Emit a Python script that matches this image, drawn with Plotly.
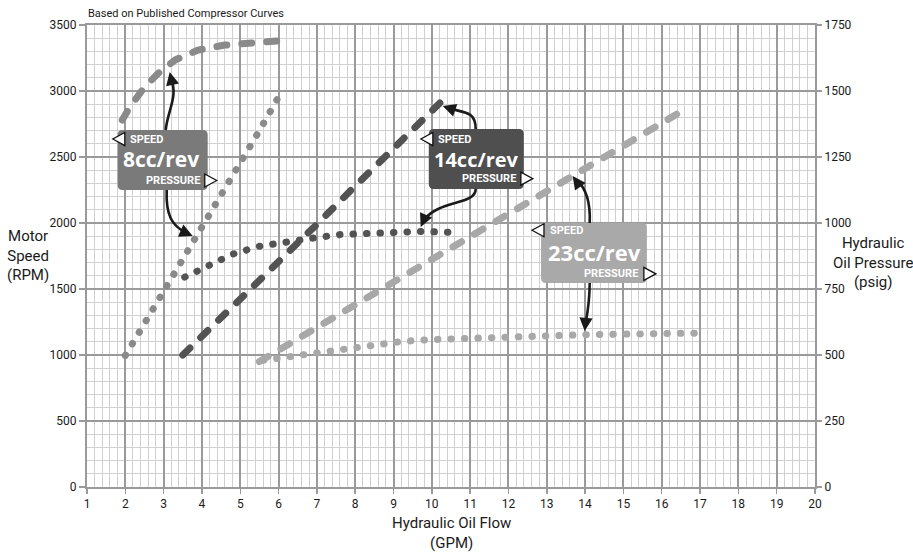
import plotly.graph_objects as go

# ---------------- data ----------------
gpm_8_speed = [1.92, 2.1, 2.5, 2.9, 3.3, 3.9, 4.6, 5.3, 6.0]
rpm_8_speed = [2780, 2870, 3030, 3145, 3235, 3310, 3348, 3370, 3380]
gpm_8_press = [2.0, 2.5, 3.0, 3.5, 4.0, 4.5, 5.0, 5.5, 6.0]
psig_8_press = [498, 618, 740, 864, 987, 1105, 1230, 1350, 1478]

gpm_14_speed = [3.5, 5.0, 6.0, 7.0, 8.0, 9.0, 10.3]
rpm_14_speed = [1000, 1420, 1710, 1990, 2280, 2560, 2935]
gpm_14_press = [3.55, 4.2, 4.8, 5.5, 6.2, 7.0, 7.6, 8.3, 9.0, 9.7, 10.45]
psig_14_press = [795, 842, 882, 912, 930, 945, 956, 962, 968, 968, 965]

gpm_23_speed = [5.5, 7.0, 9.0, 11.0, 13.0, 15.0, 16.6]
rpm_23_speed = [950, 1210, 1555, 1895, 2240, 2585, 2860]
gpm_23_press = [5.6, 6.0, 6.4, 7.1, 7.8, 8.5, 9.2, 9.9, 10.6, 11.3, 12.0, 12.7, 13.8, 15.0, 16.0, 17.0]
psig_23_press = [480, 488, 498, 514, 528, 543, 551, 558, 562, 566, 570, 572, 576, 579, 581, 583]

x_ticks = list(range(1, 21))
rpm_ticks = [0, 500, 1000, 1500, 2000, 2500, 3000, 3500]
psig_ticks = [0, 250, 500, 750, 1000, 1250, 1500, 1750]

box_labels = ["8cc/rev", "14cc/rev", "23cc/rev"]

# ---------------- styling ----------------
C8, C14, C23 = "#8a8a8a", "#535353", "#a8a8a8"
B8, B14, B23 = "#7a7a7a", "#4f4f4f", "#a9a9a9"
FONT = "Roboto, Liberation Sans, sans-serif"
DASH = "10px,15px"
DOT = "0.5px,13px"
LW = 7

fig = go.Figure()

def add_line(x, y, color, dash, axis):
    fig.add_trace(go.Scatter(x=x, y=y, mode="lines", yaxis=axis,
                             line=dict(color=color, width=LW, dash=dash),
                             hoverinfo="skip", showlegend=False))

add_line(gpm_8_press, psig_8_press, C8, DOT, "y2")
add_line(gpm_8_speed, rpm_8_speed, C8, DASH, "y")
add_line(gpm_23_press, psig_23_press, C23, DOT, "y2")
add_line(gpm_23_speed, rpm_23_speed, C23, DASH, "y")
add_line(gpm_14_press, psig_14_press, C14, DOT, "y2")
add_line(gpm_14_speed, rpm_14_speed, C14, DASH, "y")

# helpers for pixel -> data conversion of decorations
PX_PER_GPM = 728 / 19.0
PX_PER_RPM = 462 / 3500.0

def rrect(x0, x1, y0, y1, r=5):
    rx = r / PX_PER_GPM
    ry = r / PX_PER_RPM
    return (f"M {x0+rx},{y1} L {x1-rx},{y1} Q {x1},{y1} {x1},{y1-ry} "
            f"L {x1},{y0+ry} Q {x1},{y0} {x1-rx},{y0} L {x0+rx},{y0} "
            f"Q {x0},{y0} {x0},{y0+ry} L {x0},{y1-ry} Q {x0},{y1} {x0+rx},{y1} Z")

shapes = []
annotations = []

boxes = [
    (1.80, 4.15, 2250, 2705, B8, box_labels[0], 21, 2.065, 2.94, 3.995, 2636, 2485, 2322, 1.83, 4.23),
    (9.92, 12.40, 2258, 2712, B14, box_labels[1], 20, 10.10, 11.16, 12.25, 2636, 2482, 2336, 9.87, 12.48),
    (12.85, 15.61, 1545, 2000, B23, box_labels[2], 22, 13.03, 14.24, 15.43, 1945, 1782, 1615, 12.77, 15.69),
]

for (x0, x1, y0, y1, col, lab, fs, sx, lx, px, yt, ym, yb, tl, tr) in boxes:
    shapes.append(dict(type="path", xref="x", yref="y", path=rrect(x0, x1, y0, y1),
                       fillcolor=col, line=dict(width=0), layer="above"))
    annotations.append(dict(x=sx, y=yt, xref="x", yref="y", text="<b>SPEED</b>", showarrow=False,
                            xanchor="left", yanchor="middle",
                            font=dict(family=FONT, size=11, color="white")))
    annotations.append(dict(x=lx, y=ym, xref="x", yref="y", text=f"<b>{lab}</b>", showarrow=False,
                            xanchor="center", yanchor="middle",
                            font=dict(family="Open Sans, sans-serif", size=fs, color="white")))
    annotations.append(dict(x=px, y=yb, xref="x", yref="y", text="<b>PRESSURE</b>", showarrow=False,
                            xanchor="right", yanchor="middle",
                            font=dict(family=FONT, size=11, color="white")))
    shapes.append(dict(type="path", xref="x", yref="y", xsizemode="pixel", ysizemode="pixel",
                       xanchor=tl, yanchor=yt, path="M -6,0 L 6,-6.5 L 6,6.5 Z",
                       fillcolor="white", line=dict(color="#111", width=1.3), layer="above"))
    shapes.append(dict(type="path", xref="x", yref="y", xsizemode="pixel", ysizemode="pixel",
                       xanchor=tr, yanchor=yb, path="M 6,0 L -6,-6.5 L -6,6.5 Z",
                       fillcolor="white", line=dict(color="#111", width=1.3), layer="above"))

def P(px, py):
    return 1 + (px - 87.3) / PX_PER_GPM, (487 - py) / PX_PER_RPM

arrows = [
    ((166, 130), (168, 110), (179, 96), (171, 78), (170, 72), (2, 9)),
    ((167, 190), (166, 215), (172, 226), (187, 233), (193, 236), (-9, -4)),
    ((476, 129), (476, 111), (465, 113), (448, 108), (443, 106), (9, 3)),
    ((476, 189), (476, 205), (440, 200), (425, 219), (421, 227), (4, -9)),
    ((590, 223), (591, 200), (586, 188), (577, 180), (573, 176), (5, 7)),
    ((590, 283), (590, 300), (588, 312), (586, 323), (585, 331), (1, -10)),
]
for s, c1, c2, e, tip, (ax, ay) in arrows:
    pts = [P(*s), P(*c1), P(*c2), P(*e)]
    path = "M {},{} C {},{} {},{} {},{}".format(*[v for p in pts for v in p])
    shapes.append(dict(type="path", xref="x", yref="y", path=path,
                       line=dict(color="#1a1a1a", width=2.6), layer="above"))
    tx, ty = P(*tip)
    annotations.append(dict(x=tx, y=ty, xref="x", yref="y", text="", showarrow=True,
                            ax=ax, ay=ay, arrowhead=2, arrowsize=1.1, arrowwidth=2.4,
                            arrowcolor="#1a1a1a", standoff=0))

TF = dict(family=FONT, size=15, color="#1a1a1a")
annotations += [
    dict(x=-0.081, y=0.502, xref="paper", yref="paper", text="Motor<br>Speed<br>(RPM)",
         showarrow=False, xanchor="center", yanchor="middle", font=TF),
    dict(x=1.0797, y=0.487, xref="paper", yref="paper", text="Hydraulic<br>Oil Pressure<br>(psig)",
         showarrow=False, xanchor="center", yanchor="middle", font=TF),
    dict(x=0.5, y=-0.099, xref="paper", yref="paper", text="Hydraulic Oil Flow<br>(GPM)",
         showarrow=False, xanchor="center", yanchor="middle", font=TF),
    dict(x=-0.002, y=1.024, xref="paper", yref="paper", text="Based on Published Compressor Curves",
         showarrow=False, xanchor="left", yanchor="middle",
         font=dict(family=FONT, size=11, color="#1a1a1a")),
]

GRID = "#9a9a9a"
MINOR = "#d0d0d0"
tickfont = dict(family=FONT, size=12, color="#1a1a1a")

fig.update_layout(
    width=913, height=554,
    margin=dict(l=87, r=98, t=25, b=67),
    paper_bgcolor="white", plot_bgcolor="white",
    showlegend=False,
    shapes=shapes, annotations=annotations,
    xaxis=dict(range=[1, 20], tickvals=x_ticks, ticktext=[str(v) for v in x_ticks],
               showgrid=True, gridcolor=GRID, gridwidth=2,
               minor=dict(dtick=0.2, tick0=1, showgrid=True, gridcolor=MINOR, gridwidth=1),
               showline=True, linecolor=GRID, linewidth=2, mirror=True,
               ticks="outside", ticklen=5, tickcolor=GRID, tickwidth=1.5,
               tickfont=tickfont, zeroline=False, fixedrange=True),
    yaxis=dict(range=[0, 3500], tickvals=rpm_ticks, ticktext=[str(v) for v in rpm_ticks],
               showgrid=True, gridcolor=GRID, gridwidth=2,
               minor=dict(dtick=100, tick0=0, showgrid=True, gridcolor=MINOR, gridwidth=1),
               showline=True, linecolor=GRID, linewidth=2,
               ticks="outside", ticklen=6, tickcolor=GRID, tickwidth=1.5,
               tickfont=tickfont, zeroline=False, fixedrange=True),
    yaxis2=dict(range=[0, 1750], tickvals=psig_ticks, ticktext=[str(v) for v in psig_ticks],
                overlaying="y", side="right", showgrid=False,
                showline=True, linecolor=GRID, linewidth=2,
                ticks="outside", ticklen=5, tickcolor=GRID, tickwidth=1.5,
                tickfont=tickfont, zeroline=False, fixedrange=True),
)

post = """
document.body.style.margin = '0';
document.body.style.padding = '0';
var gd = document.getElementById('{plot_id}');
function fixCaps(){
  gd.querySelectorAll('.scatterlayer path.js-line').forEach(function(p){
    p.style.strokeLinecap = 'round'; p.style.strokeLinejoin = 'round';
  });
}
fixCaps();
gd.on('plotly_afterplot', fixCaps);
"""

fig.write_html("out.html", post_script=post,
               config={"displayModeBar": False, "staticPlot": True})
